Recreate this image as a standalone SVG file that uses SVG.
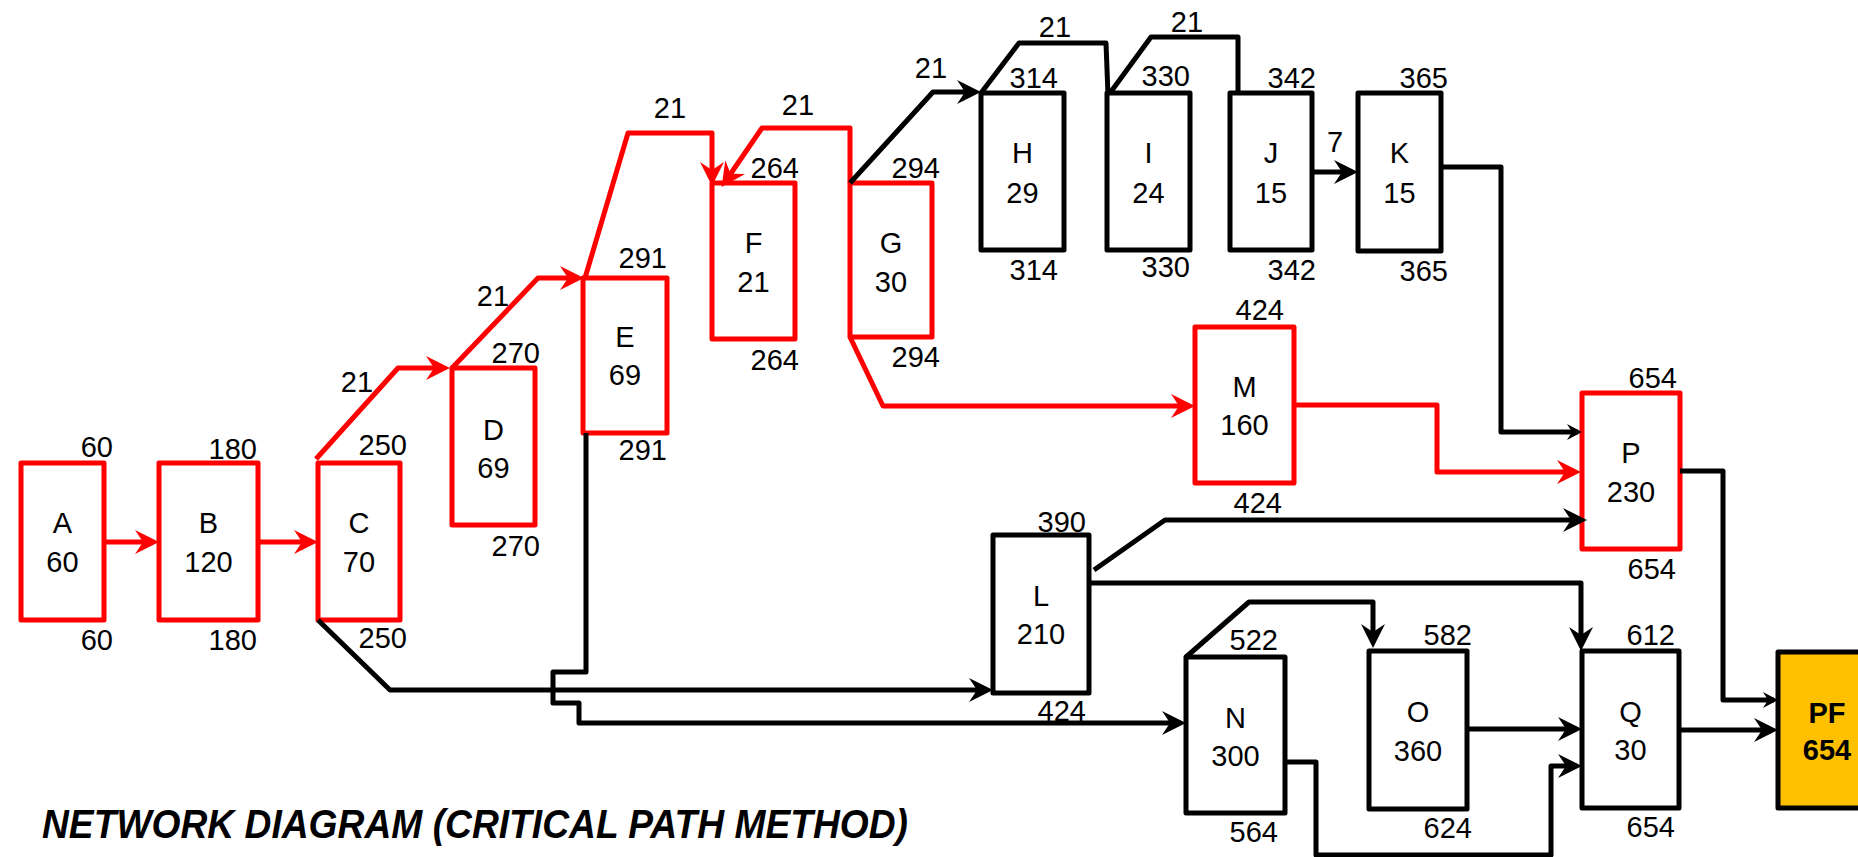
<svg xmlns="http://www.w3.org/2000/svg" width="1858" height="857" viewBox="0 0 1858 857">
<style>
.box{fill:#fff;stroke-width:5;stroke-linejoin:round}
.rb{stroke:#ff0000}
.bb{stroke:#000}
.t{font-family:"Liberation Sans",Arial,Helvetica,sans-serif;font-size:29px;fill:#000}
.c{text-anchor:middle}
.r{text-anchor:end}
.cr{fill:none;stroke:#ff0000;stroke-width:5;stroke-linejoin:round}
.cb{fill:none;stroke:#000;stroke-width:5;stroke-linejoin:round}
</style>
<defs>
<marker id="ar" markerUnits="userSpaceOnUse" orient="auto" overflow="visible" refX="0" refY="0" markerWidth="1" markerHeight="1"><path d="M6,0 L-18,-12 L-10,0 L-18,12 Z" fill="#ff0000"/></marker>
<marker id="ab" markerUnits="userSpaceOnUse" orient="auto" overflow="visible" refX="0" refY="0" markerWidth="1" markerHeight="1"><path d="M6,0 L-18,-12 L-10,0 L-18,12 Z" fill="#000"/></marker>
<marker id="as" markerUnits="userSpaceOnUse" orient="auto" overflow="visible" refX="0" refY="0" markerWidth="1" markerHeight="1"><path d="M4,0 L-11,-8 L-6,0 L-11,8 Z" fill="#000"/></marker>
</defs>
<rect width="1858" height="857" fill="#fff"/>

<g id="A"><rect class="box rb" x="21" y="463" width="83" height="157"/><text class="t c" x="62.5" y="533">A</text><text class="t c" x="62.5" y="572">60</text><text class="t r" x="113" y="457">60</text><text class="t r" x="113" y="650">60</text></g>
<g id="B"><rect class="box rb" x="159" y="463" width="99" height="157"/><text class="t c" x="208.5" y="533">B</text><text class="t c" x="208.5" y="572">120</text><text class="t r" x="257" y="459">180</text><text class="t r" x="257" y="650">180</text></g>
<g id="C"><rect class="box rb" x="318" y="463" width="82" height="157"/><text class="t c" x="359" y="533">C</text><text class="t c" x="359" y="572">70</text><text class="t r" x="407" y="455">250</text><text class="t r" x="407" y="648">250</text></g>
<g id="D"><rect class="box rb" x="452" y="368" width="83" height="157"/><text class="t c" x="493.5" y="440">D</text><text class="t c" x="493.5" y="478">69</text><text class="t r" x="540" y="363">270</text><text class="t r" x="540" y="556">270</text></g>
<g id="E"><rect class="box rb" x="583" y="278" width="84" height="155"/><text class="t c" x="625" y="347">E</text><text class="t c" x="625" y="385">69</text><text class="t r" x="667" y="268">291</text><text class="t r" x="667" y="460">291</text></g>
<g id="F"><rect class="box rb" x="712" y="183" width="83" height="156"/><text class="t c" x="753.5" y="253">F</text><text class="t c" x="753.5" y="292">21</text><text class="t r" x="799" y="178">264</text><text class="t r" x="799" y="370">264</text></g>
<g id="G"><rect class="box rb" x="850" y="183" width="82" height="154"/><text class="t c" x="891" y="253">G</text><text class="t c" x="891" y="292">30</text><text class="t r" x="940" y="178">294</text><text class="t r" x="940" y="367">294</text></g>
<g id="H"><rect class="box bb" x="981" y="93" width="83" height="157"/><text class="t c" x="1022.5" y="163">H</text><text class="t c" x="1022.5" y="203">29</text><text class="t r" x="1058" y="88">314</text><text class="t r" x="1058" y="280">314</text></g>
<g id="I"><rect class="box bb" x="1107" y="93" width="83" height="157"/><text class="t c" x="1148.5" y="163">I</text><text class="t c" x="1148.5" y="203">24</text><text class="t r" x="1190" y="86">330</text><text class="t r" x="1190" y="277">330</text></g>
<g id="J"><rect class="box bb" x="1230" y="93" width="82" height="157"/><text class="t c" x="1271" y="163">J</text><text class="t c" x="1271" y="203">15</text><text class="t r" x="1316" y="88">342</text><text class="t r" x="1316" y="280">342</text></g>
<g id="K"><rect class="box bb" x="1358" y="93" width="83" height="158"/><text class="t c" x="1399.5" y="163">K</text><text class="t c" x="1399.5" y="203">15</text><text class="t r" x="1448" y="88">365</text><text class="t r" x="1448" y="281">365</text></g>
<g id="M"><rect class="box rb" x="1195" y="327" width="99" height="156"/><text class="t c" x="1244.5" y="397">M</text><text class="t c" x="1244.5" y="435">160</text><text class="t r" x="1284" y="320">424</text><text class="t r" x="1282" y="513">424</text></g>
<g id="P"><rect class="box rb" x="1582" y="393" width="98" height="156"/><text class="t c" x="1631" y="463">P</text><text class="t c" x="1631" y="502">230</text><text class="t r" x="1677" y="388">654</text><text class="t r" x="1676" y="579">654</text></g>
<g id="L"><rect class="box bb" x="993" y="535" width="96" height="158"/><text class="t c" x="1041" y="606">L</text><text class="t c" x="1041" y="644">210</text><text class="t r" x="1086" y="532">390</text><text class="t r" x="1086" y="721">424</text></g>
<g id="N"><rect class="box bb" x="1186" y="657" width="99" height="156"/><text class="t c" x="1235.5" y="728">N</text><text class="t c" x="1235.5" y="766">300</text><text class="t r" x="1278" y="650">522</text><text class="t r" x="1278" y="842">564</text></g>
<g id="O"><rect class="box bb" x="1369" y="651" width="98" height="158"/><text class="t c" x="1418" y="722">O</text><text class="t c" x="1418" y="761">360</text><text class="t r" x="1472" y="645">582</text><text class="t r" x="1472" y="838">624</text></g>
<g id="Q"><rect class="box bb" x="1582" y="651" width="97" height="157"/><text class="t c" x="1630.5" y="722">Q</text><text class="t c" x="1630.5" y="760">30</text><text class="t r" x="1675" y="645">612</text><text class="t r" x="1675" y="837">654</text></g>
<g id="PF"><rect class="box bb" x="1778" y="652" width="98" height="156" style="fill:#ffc000"/><text class="t c" x="1827" y="723" font-weight="bold">PF</text><text class="t c" x="1827" y="760" font-weight="bold">654</text></g>

<g id="connectors">
<path class="cr" d="M104,542 H153" marker-end="url(#ar)"/>
<path class="cr" d="M258,542 H312" marker-end="url(#ar)"/>
<path class="cr" d="M316,459 L398,368 H444" marker-end="url(#ar)"/>
<path class="cr" d="M452,368 L538,278 H578" marker-end="url(#ar)"/>
<path class="cr" d="M585,278 L628,133 H712 V180" marker-end="url(#ar)"/>
<path class="cr" d="M850,183 V128 H762 L725,182" marker-end="url(#ar)"/>
<path class="cr" d="M850,337 L883,406 H1189" marker-end="url(#ar)"/>
<path class="cr" d="M1294,405 H1437 V472 H1575" marker-end="url(#ar)"/>
<path class="cb" d="M850,183 L933,92 H975" marker-end="url(#ab)"/>
<path class="cb" d="M981,93 L1019,43 H1106 L1108,95"/>
<path class="cb" d="M1110,93 L1151,37 H1238 V93"/>
<path class="cb" d="M1312,172 H1352" marker-end="url(#ab)"/>
<path class="cb" d="M1441,167 H1501 V432 H1578" marker-end="url(#as)"/>
<path class="cb" d="M318,620 L390,690 H987" marker-end="url(#ab)"/>
<path class="cb" d="M586,433 V672 H553 V703 H579 V723 H1180" marker-end="url(#ab)"/>
<path class="cb" d="M1094,570 L1165,520 H1581" marker-end="url(#ab)"/>
<path class="cb" d="M1089,583 H1581 V645" marker-end="url(#ab)"/>
<path class="cb" d="M1186,657 L1249,602 H1373 V642" marker-end="url(#ab)"/>
<path class="cb" d="M1467,729 H1576" marker-end="url(#ab)"/>
<path class="cb" d="M1285,762 H1316 V855 H1551 V766 H1576" marker-end="url(#ab)"/>
<path class="cb" d="M1679,730 H1772" marker-end="url(#ab)"/>
<path class="cb" d="M1680,471 H1723 V700 H1774" marker-end="url(#as)"/>
<text class="t c" x="357" y="392">21</text>
<text class="t c" x="493" y="306">21</text>
<text class="t c" x="670" y="118">21</text>
<text class="t c" x="798" y="115">21</text>
<text class="t c" x="931" y="78">21</text>
<text class="t c" x="1055" y="37">21</text>
<text class="t c" x="1187" y="32">21</text>
<text class="t c" x="1335" y="152">7</text>
</g>

<text x="42" y="838" font-family="'Liberation Sans',Arial,sans-serif" font-size="40" font-weight="bold" font-style="italic" textLength="866" lengthAdjust="spacingAndGlyphs">NETWORK DIAGRAM (CRITICAL PATH METHOD)</text>
</svg>
